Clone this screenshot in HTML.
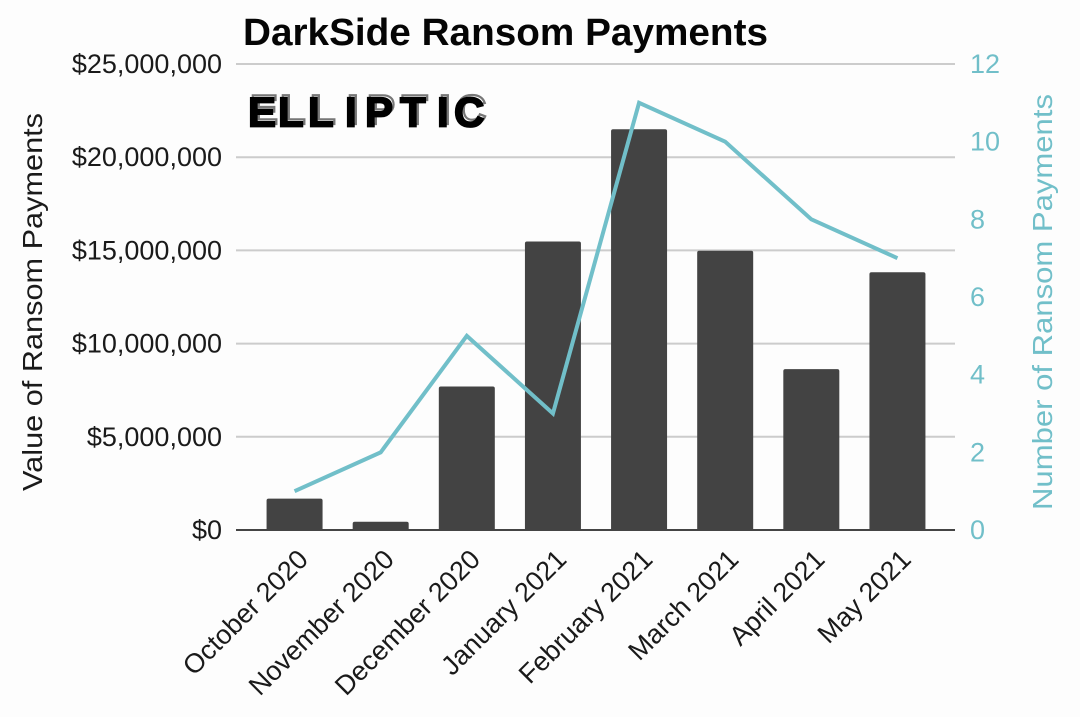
<!DOCTYPE html>
<html>
<head>
<meta charset="utf-8">
<title>DarkSide Ransom Payments</title>
<style>
html,body{margin:0;padding:0;background:#fdfdfd;}
svg{display:block;font-family:"Liberation Sans",sans-serif;}
</style>
</head>
<body>
<svg id="chart" width="1080" height="717" viewBox="0 0 1080 717" xmlns="http://www.w3.org/2000/svg">
<rect width="1080" height="717" fill="#fdfdfd"/>
<text x="243" y="45" font-size="38" font-weight="700" fill="#050505" textLength="525" lengthAdjust="spacingAndGlyphs">DarkSide Ransom Payments</text>
<g id="grid"></g>
<g id="bars"></g>
<g id="line"></g>
<g id="left-ticks"></g>
<g id="right-ticks"></g>
<g id="x-ticks"></g>
<text transform="translate(42 302) rotate(-90)" text-anchor="middle" font-size="27.5" fill="#1a1a1a" textLength="378" lengthAdjust="spacingAndGlyphs">Value of Ransom Payments</text>
<text transform="translate(1052 302) rotate(-90)" text-anchor="middle" font-size="27.5" fill="#71bfc9" textLength="416" lengthAdjust="spacingAndGlyphs">Number of Ransom Payments</text>
<g font-weight="700" font-size="42">
<text x="250 280 310 347 367 402 439 456" y="124" fill="#fdfdfd" stroke="#777" stroke-width="2.2">ELLIPTIC</text>
<text x="248 278 308 345 365 400 437 454" y="126.5" fill="#000" stroke="#000" stroke-width="1.8">ELLIPTIC</text>
</g>
</svg>
<script>
var categories = ["October 2020","November 2020","December 2020","January 2021","February 2021","March 2021","April 2021","May 2021"];
var paymentValues = [1680000,440000,7700000,15480000,21500000,14980000,8630000,13830000];
var paymentCounts = [1,2,5,3,11,10,8,7];
var leftTicks = [0,5000000,10000000,15000000,20000000,25000000];
var rightTicks = [0,2,4,6,8,10,12];

var NS = "http://www.w3.org/2000/svg";
var plotLeft = 251.5, plotRight = 940.5, gridLeft = 236, gridRight = 955, plotTop = 64, plotBottom = 530;
var band = (plotRight - plotLeft) / categories.length;
function xScale(i){ return plotLeft + band * (i + 0.5); }
function yLeft(v){ return plotBottom - (v / 25000000) * (plotBottom - plotTop); }
function yRight(v){ return plotBottom - (v / 12) * (plotBottom - plotTop); }
function mk(tag, attrs, parent){
  var el = document.createElementNS(NS, tag);
  for (var k in attrs) el.setAttribute(k, attrs[k]);
  document.getElementById(parent).appendChild(el);
  return el;
}
function money(v){ return "$" + v.toLocaleString("en-US"); }

leftTicks.forEach(function(t){
  var g = mk("line", {x1:gridLeft, x2:gridRight, y1:yLeft(t), y2:yLeft(t), stroke:t === 0 ? "#444" : "#cccccc", "stroke-width":2}, "grid");
  
  
  var l = mk("text", {x:222, y:yLeft(t) + 9, "text-anchor":"end", "font-size":27, fill:"#1a1a1a"}, "left-ticks");
  
  
  l.textContent = money(t);
});
rightTicks.forEach(function(t){
  var l = mk("text", {x:970, y:yRight(t) + 9, "font-size":27, fill:"#71bfc9"}, "right-ticks");
  
  
  l.textContent = t;
});
paymentValues.forEach(function(v, i){
  var w = 56, top = yLeft(v), cx = xScale(i), r = 2;
  var b = mk("path", {d:"M"+(cx-w/2)+" "+plotBottom+"V"+(top+r)+"Q"+(cx-w/2)+" "+top+" "+(cx-w/2+r)+" "+top+"H"+(cx+w/2-r)+"Q"+(cx+w/2)+" "+top+" "+(cx+w/2)+" "+(top+r)+"V"+plotBottom+"Z", fill:"#434343"}, "bars");
  
  
});
var pts = paymentCounts.map(function(c, i){ return xScale(i) + "," + yRight(c); }).join(" ");
var pl = mk("polyline", {points:pts, fill:"none", stroke:"#71bfc9", "stroke-width":4, "stroke-linejoin":"miter"}, "line");


categories.forEach(function(c, i){
  var x = xScale(i) + 15, y = 561;
  var l = mk("text", {transform:"translate("+x+" "+y+") rotate(-45)", "text-anchor":"end", "font-size":27, fill:"#1a1a1a"}, "x-ticks");
  
  
  l.textContent = c;
});
</script>
</body>
</html>
